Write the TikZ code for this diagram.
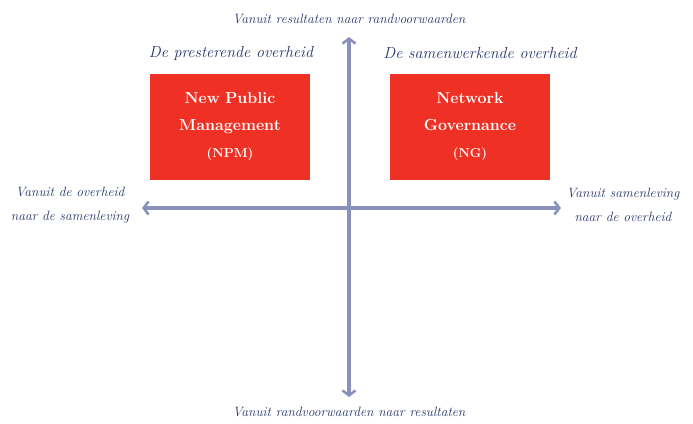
\documentclass[tikz,border=0pt]{standalone}
\usetikzlibrary{arrows.meta}
\definecolor{axisblue}{HTML}{8A90BC}
\definecolor{boxred}{HTML}{EE3124}
\definecolor{textblue}{HTML}{26346A}
\tikzset{
    axis/.style={line width=3.5pt,color=axisblue,
        {Straight Barb[length=5pt,width=13pt,line width=2.5pt]}-{Straight Barb[length=5pt,width=13pt,line width=2.5pt]}},
    quadrant/.style={fill=boxred,text=white,minimum width=160pt,minimum height=106pt,
        inner sep=0pt,align=center,font=\fontsize{16}{27}\selectfont\bfseries,text width=150pt},
    axislabel/.style={text=textblue,font=\fontsize{13.5}{24}\selectfont\itshape,align=center,inner sep=0pt},
    heading/.style={text=textblue,font=\fontsize{16}{19}\selectfont\itshape,inner sep=0pt}
}
\begin{document}
\begin{tikzpicture}[x=1pt,y=-1pt]
        \useasboundingbox (0,0) rectangle (693,423);
        %% Axes
        \coordinate (top) at (349,37);
        \coordinate (bottom) at (349,397);
        \coordinate (left) at (142,208);
        \coordinate (right) at (561,208);
        \draw[axis] (bottom) -- (top);
        \draw[axis] (left) -- (right);
        %% Quadrants
        \node[quadrant] (npm) at (230,127) {New Public\\ Management\\ {\fontsize{13}{27}\selectfont(NPM)}};
        \node[quadrant] (ng) at (470,127) {Network\\ Governance\\ {\fontsize{13}{27}\selectfont(NG)}};
        \node[heading] (npmhead) at (231,53) {De presterende overheid};
        \node[heading] (nghead) at (480,53) {De samenwerkende overheid};
        %% Labels
        \node[axislabel,anchor=south] at ([yshift=13]top) {Vanuit resultaten naar randvoorwaarden};
        \node[axislabel,anchor=north] at ([yshift=-10]bottom) {Vanuit randvoorwaarden naar resultaten};
        \node[axislabel] at (70,205) {Vanuit de overheid\\ naar de samenleving};
        \node[axislabel] at (623,205) {Vanuit samenleving\\ naar de overheid};
    \end{tikzpicture}
\end{document}
